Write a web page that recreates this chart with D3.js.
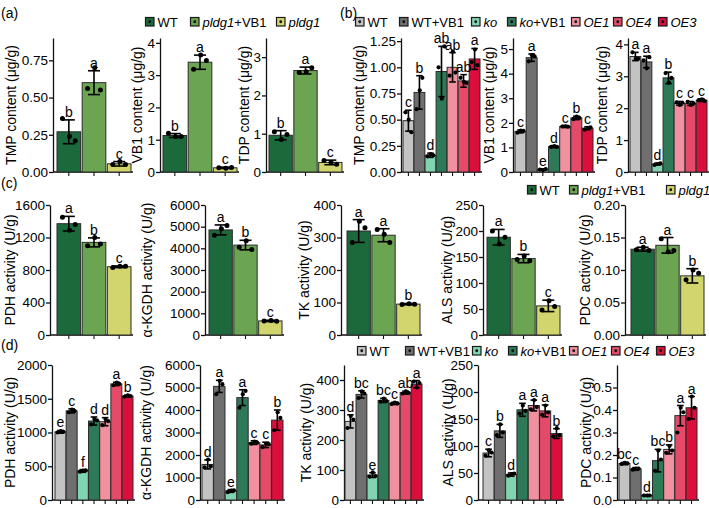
<!DOCTYPE html>
<html>
<head>
<meta charset="utf-8">
<script src="https://cdn.jsdelivr.net/npm/d3@7"></script>
<style>
  body { margin: 0; background: #fff; }
  svg { font-family: "Liberation Sans", Arial, sans-serif; }
</style>
</head>
<body>
<svg id="fig" width="709" height="508"></svg>
<script>
// groups and colours
const groupsA = ['WT', 'pldg1+VB1', 'pldg1'];
const groupsB = ['WT', 'WT+VB1', 'ko', 'ko+VB1', 'OE1', 'OE4', 'OE3'];
const colorsA = ['#1c6a3b', '#6ca552', '#d2d56e'];
const colorsB = ['#c3c3c3', '#6f6f6f', '#80d5b0', '#2e7a58', '#f1909e', '#e54b69', '#dc0e3c'];

// (a) pldg1 contents
const aTmpMean = [0.27, 0.60, 0.055];
const aTmpSd = [0.08, 0.08, 0.015];
const aTmpPts = [[0.36, 0.24, 0.21], [0.56, 0.70, 0.55], [0.05, 0.07, 0.05]];
const aTmpSig = ['b', 'a', 'c'];
const aTmpTicks = [0, 0.25, 0.5, 0.75];

const aVb1Mean = [1.13, 3.40, 0.13];
const aVb1Sd = [0.06, 0.22, 0.02];
const aVb1Pts = [[1.20, 1.10, 1.10], [3.18, 3.62, 3.45], [0.13, 0.12, 0.14]];
const aVb1Sig = ['b', 'a', 'c'];
const aVb1Ticks = [0, 1, 2, 3, 4];

const aTdpMean = [0.96, 2.65, 0.25];
const aTdpSd = [0.12, 0.09, 0.06];
const aTdpPts = [[1.05, 0.85, 0.98], [2.60, 2.62, 2.72], [0.30, 0.25, 0.20]];
const aTdpSig = ['b', 'a', 'c'];
const aTdpTicks = [0, 1, 2, 3];

// (b) ko / OE contents
const bTmpMean = [0.49, 0.76, 0.16, 0.96, 1.00, 0.87, 1.08];
const bTmpSd = [0.10, 0.16, 0.02, 0.24, 0.14, 0.06, 0.10];
const bTmpPts = [[0.57, 0.50, 0.38], [0.60, 0.78, 0.90], [0.15, 0.17, 0.16], [1.00, 0.70, 1.20], [0.92, 1.15, 0.95], [0.90, 0.86, 0.85], [1.05, 1.17, 1.02]];
const bTmpSig = ['c', 'b', 'd', 'ab', 'ab', 'ab', 'a'];
const bTmpTicks = [0, 0.25, 0.5, 0.75, 1, 1.25];

const bVb1Mean = [1.65, 4.65, 0.10, 1.03, 1.85, 2.20, 1.78];
const bVb1Sd = [0.06, 0.15, 0.03, 0.04, 0.04, 0.07, 0.06];
const bVb1Pts = [[1.60, 1.68, 1.67], [4.50, 4.75, 4.70], [0.10, 0.08, 0.12], [1.02, 1.05, 1.02], [1.85, 1.86, 1.84], [2.15, 2.25, 2.20], [1.72, 1.80, 1.82]];
const bVb1Sig = ['c', 'a', 'e', 'd', 'c', 'b', 'c'];
const bVb1Ticks = [0, 1, 2, 3, 4, 5];

const bTdpMean = [3.62, 3.45, 0.25, 2.95, 2.15, 2.15, 2.25];
const bTdpSd = [0.13, 0.18, 0.03, 0.18, 0.06, 0.06, 0.04];
const bTdpPts = [[3.75, 3.55, 3.55], [3.50, 3.25, 3.60], [0.22, 0.25, 0.27], [3.10, 2.80, 2.95], [2.18, 2.10, 2.17], [2.20, 2.10, 2.15], [2.25, 2.28, 2.22]];
const bTdpSig = ['a', 'a', 'd', 'b', 'c', 'c', 'c'];
const bTdpTicks = [0, 1, 2, 3, 4];

// (c) pldg1 enzyme activities
const cPdhMean = [1370, 1140, 840];
const cPdhSd = [90, 55, 10];
const cPdhPts = [[1450, 1290, 1360], [1100, 1200, 1120], [830, 845, 845]];
const cPdhSig = ['a', 'b', 'c'];
const cPdhTicks = [0, 400, 800, 1200, 1600];

const cKgdhMean = [4850, 4150, 650];
const cKgdhSd = [230, 220, 30];
const cKgdhPts = [[4600, 4900, 5050], [4050, 4350, 3950], [650, 670, 630]];
const cKgdhSig = ['a', 'b', 'c'];
const cKgdhTicks = [0, 1000, 2000, 3000, 4000, 5000, 6000];

const cTkMean = [320, 307, 95];
const cTkSd = [35, 20, 2];
const cTkPts = [[285, 350, 330], [325, 310, 285], [94, 96, 95]];
const cTkSig = ['a', 'a', 'b'];
const cTkTicks = [0, 100, 200, 300, 400];

const cAlsMean = [188, 147, 56];
const cAlsSd = [15, 8, 11];
const cAlsPts = [[200, 175, 188], [145, 152, 143], [48, 66, 55]];
const cAlsSig = ['a', 'b', 'c'];
const cAlsTicks = [0, 50, 100, 150, 200, 250];

const cPdcMean = [0.132, 0.138, 0.091];
const cPdcSd = [0.003, 0.012, 0.011];
const cPdcPts = [[0.131, 0.135, 0.130], [0.148, 0.128, 0.130], [0.085, 0.100, 0.095]];
const cPdcSig = ['a', 'a', 'b'];
const cPdcTicks = [0, 0.05, 0.1, 0.15, 0.2];

// (d) ko / OE enzyme activities
const dPdhMean = [1010, 1320, 430, 1170, 1160, 1720, 1540];
const dPdhSd = [20, 30, 20, 60, 60, 25, 15];
const dPdhPts = [[1000, 1020, 1010], [1300, 1340, 1320], [420, 435, 440], [1120, 1200, 1180], [1110, 1200, 1170], [1700, 1740, 1720], [1530, 1550, 1540]];
const dPdhSig = ['e', 'c', 'f', 'd', 'd', 'a', 'b'];
const dPdhTicks = [0, 500, 1000, 1500, 2000];

const dKgdhMean = [1580, 5050, 400, 4550, 2550, 2450, 3550];
const dKgdhSd = [200, 270, 60, 350, 80, 120, 450];
const dKgdhPts = [[1450, 1800, 1500], [4700, 5300, 5150], [350, 420, 430], [4100, 4700, 4850], [2500, 2600, 2550], [2350, 2500, 2480], [3100, 3900, 3650]];
const dKgdhSig = ['d', 'a', 'e', 'a', 'c', 'c', 'b'];
const dKgdhTicks = [0, 1000, 2000, 3000, 4000, 5000, 6000];

const dTkMean = [262, 352, 83, 332, 322, 358, 386];
const dTkSd = [22, 12, 8, 7, 4, 5, 12];
const dTkPts = [[240, 280, 268], [340, 362, 355], [78, 92, 80], [328, 338, 330], [320, 325, 322], [355, 362, 357], [395, 375, 390]];
const dTkSig = ['d', 'bc', 'e', 'bc', 'c', 'ab', 'a'];
const dTkTicks = [0, 100, 200, 300, 400];

const dAlsMean = [87, 128, 47, 167, 175, 165, 123];
const dAlsSd = [7, 12, 3, 12, 10, 11, 9];
const dAlsPts = [[82, 92, 88], [120, 140, 125], [45, 48, 49], [160, 175, 165], [168, 185, 172], [158, 175, 162], [118, 133, 120]];
const dAlsSig = ['c', 'b', 'd', 'a', 'a', 'a', 'b'];
const dAlsTicks = [0, 50, 100, 150, 200, 250];

const dPdcMean = [0.162, 0.138, 0.02, 0.175, 0.225, 0.375, 0.41];
const dPdcSd = [0.005, 0.006, 0.004, 0.05, 0.02, 0.045, 0.05];
const dPdcPts = [[0.160, 0.165, 0.163], [0.135, 0.140, 0.140], [0.020, 0.020, 0.020], [0.130, 0.220, 0.180], [0.210, 0.240, 0.220], [0.300, 0.410, 0.390], [0.360, 0.460, 0.410]];
const dPdcSig = ['bc', 'c', 'd', 'bc', 'b', 'a', 'a'];
const dPdcTicks = [0, 0.1, 0.2, 0.3, 0.4, 0.5];

const rowAB = [172, 38];
const rowC = [335, 205];
const rowD = [500, 365];

const panels = [
  {title: 'TMP content (μg/g)', mean: aTmpMean, sd: aTmpSd, pts: aTmpPts, sig: aTmpSig, ticks: aTmpTicks, fmt: '.2f', top: 0.9, ax: 53, bars: [57, 131], yr: rowAB, tx: 11, colors: colorsA},
  {title: 'VB1 content (μg/g)', mean: aVb1Mean, sd: aVb1Sd, pts: aVb1Pts, sig: aVb1Sig, ticks: aVb1Ticks, fmt: 'd', top: 4.15, ax: 160, bars: [163, 237], yr: rowAB, tx: 137, colors: colorsA},
  {title: 'TDP content (μg/g)', mean: aTdpMean, sd: aTdpSd, pts: aTdpPts, sig: aTdpSig, ticks: aTdpTicks, fmt: 'd', top: 3.5, ax: 266, bars: [269, 342], yr: rowAB, tx: 244, colors: colorsA},
  {title: 'TMP content (μg/g)', mean: bTmpMean, sd: bTmpSd, pts: bTmpPts, sig: bTmpSig, ticks: bTmpTicks, fmt: '.2f', top: 1.28, ax: 401, bars: [403, 480], yr: rowAB, tx: 359, colors: colorsB},
  {title: 'VB1 content (μg/g)', mean: bVb1Mean, sd: bVb1Sd, pts: bVb1Pts, sig: bVb1Sig, ticks: bVb1Ticks, fmt: 'd', top: 5.45, ax: 513, bars: [515, 593], yr: rowAB, tx: 489, colors: colorsB},
  {title: 'TDP content (μg/g)', mean: bTdpMean, sd: bTdpSd, pts: bTdpPts, sig: bTdpSig, ticks: bTdpTicks, fmt: 'd', top: 4.2, ax: 628, bars: [630, 707], yr: rowAB, tx: 602, colors: colorsB},
  {title: 'PDH activity (U/g)', mean: cPdhMean, sd: cPdhSd, pts: cPdhPts, sig: cPdhSig, ticks: cPdhTicks, fmt: 'd', top: 1600, ax: 50, bars: [57, 131], yr: rowC, tx: 10, colors: colorsA},
  {title: 'α-KGDH activity (U/g)', mean: cKgdhMean, sd: cKgdhSd, pts: cKgdhPts, sig: cKgdhSig, ticks: cKgdhTicks, fmt: 'd', top: 6000, ax: 205, bars: [209, 282], yr: rowC, tx: 147, colors: colorsA},
  {title: 'TK activity (U/g)', mean: cTkMean, sd: cTkSd, pts: cTkPts, sig: cTkSig, ticks: cTkTicks, fmt: 'd', top: 400, ax: 341, bars: [347, 420], yr: rowC, tx: 304, colors: colorsA},
  {title: 'ALS activity (U/g)', mean: cAlsMean, sd: cAlsSd, pts: cAlsPts, sig: cAlsSig, ticks: cAlsTicks, fmt: 'd', top: 250, ax: 483, bars: [487, 560], yr: rowC, tx: 447, colors: colorsA},
  {title: 'PDC activity (U/g)', mean: cPdcMean, sd: cPdcSd, pts: cPdcPts, sig: cPdcSig, ticks: cPdcTicks, fmt: '.2f', top: 0.2, ax: 625, bars: [631, 704], yr: rowC, tx: 585, colors: colorsA},
  {title: 'PDH activity (U/g)', mean: dPdhMean, sd: dPdhSd, pts: dPdhPts, sig: dPdhSig, ticks: dPdhTicks, fmt: 'd', top: 2000, ax: 52, bars: [55, 133], yr: rowD, tx: 10, colors: colorsB},
  {title: 'α-KGDH activity (U/g)', mean: dKgdhMean, sd: dKgdhSd, pts: dKgdhPts, sig: dKgdhSig, ticks: dKgdhTicks, fmt: 'd', top: 6000, ax: 200, bars: [202, 283], yr: rowD, tx: 146, colors: colorsB},
  {title: 'TK activity (U/g)', mean: dTkMean, sd: dTkSd, pts: dTkPts, sig: dTkSig, ticks: dTkTicks, fmt: 'd', top: 450, ax: 344, bars: [345, 422], yr: rowD, tx: 306, colors: colorsB},
  {title: 'ALS activity (U/g)', mean: dAlsMean, sd: dAlsSd, pts: dAlsPts, sig: dAlsSig, ticks: dAlsTicks, fmt: 'd', top: 250, ax: 478, bars: [483, 562], yr: rowD, tx: 448, colors: colorsB},
  {title: 'PDC activity (U/g)', mean: dPdcMean, sd: dPdcSd, pts: dPdcPts, sig: dPdcSig, ticks: dPdcTicks, fmt: '.1f', top: 0.6, ax: 617, bars: [619, 697], yr: rowD, tx: 586, colors: colorsB}
];

const svg = d3.select('#fig');
const jitter = [-0.27, 0.03, 0.27];

function drawPanel (p) {
    let n = p.mean.length;
    let g = svg.append('g');
    let x = d3.scaleBand().domain(d3.range(n)).range(p.bars).paddingInner(n > 3 ? 0.02 : 0.06);
    let y = d3.scaleLinear().domain([0, p.top]).range(p.yr);
    let bw = x.bandwidth();
    let cap = Math.min(12, bw * 0.6);

    let yAxis = g.append('g')
        .attr('transform', `translate(${p.ax},0)`)
        .call(d3.axisLeft(y).tickValues(p.ticks).tickFormat(d3.format(p.fmt)).tickSize(4).tickSizeOuter(0).tickPadding(1));
    yAxis.attr('font-size', 13.5).attr('font-family', null);
    yAxis.selectAll('line, path').attr('stroke', '#111').attr('stroke-width', 1.3);

    // x baseline with ticks under each bar
    g.append('line')
        .attr('x1', p.ax).attr('x2', p.bars[1] + 2)
        .attr('y1', y(0)).attr('y2', y(0))
        .attr('stroke', '#111').attr('stroke-width', 1.3);
    g.selectAll('.xtick')
        .data(d3.range(n))
        .enter().append('line')
            .attr('x1', i => x(i) + bw / 2).attr('x2', i => x(i) + bw / 2)
            .attr('y1', y(0)).attr('y2', y(0) + 4)
            .attr('stroke', '#111').attr('stroke-width', 1.1);

    g.append('text')
        .attr('transform', `translate(${p.tx},${(p.yr[0] + p.yr[1]) / 2}) rotate(-90)`)
        .attr('text-anchor', 'middle')
        .attr('dy', '0.35em')
        .attr('font-size', 14)
        .text(p.title);

    g.selectAll('.bar')
        .data(p.mean)
        .enter().append('rect')
            .attr('x', (d, i) => x(i))
            .attr('y', d => y(d))
            .attr('width', bw)
            .attr('height', d => y(0) - y(d))
            .style('fill', (d, i) => p.colors[i])
            .attr('stroke', '#2b2b2b')
            .attr('stroke-width', 1);

    let err = g.selectAll('.err')
        .data(p.mean)
        .enter().append('g')
            .attr('stroke', '#000')
            .attr('stroke-width', 1.6);
    err.append('line')
        .attr('x1', (d, i) => x(i) + bw / 2).attr('x2', (d, i) => x(i) + bw / 2)
        .attr('y1', (d, i) => y(d - p.sd[i])).attr('y2', (d, i) => y(d + p.sd[i]));
    err.append('line')
        .attr('x1', (d, i) => x(i) + bw / 2 - cap / 2).attr('x2', (d, i) => x(i) + bw / 2 + cap / 2)
        .attr('y1', (d, i) => y(d + p.sd[i])).attr('y2', (d, i) => y(d + p.sd[i]));
    err.append('line')
        .attr('x1', (d, i) => x(i) + bw / 2 - cap / 2).attr('x2', (d, i) => x(i) + bw / 2 + cap / 2)
        .attr('y1', (d, i) => y(d - p.sd[i])).attr('y2', (d, i) => y(d - p.sd[i]));

    let dots = [];
    p.pts.forEach((vals, i) => vals.forEach((v, k) => dots.push({i: i, k: k, v: v})));
    g.selectAll('.dot')
        .data(dots)
        .enter().append('circle')
            .attr('cx', d => x(d.i) + bw / 2 + jitter[d.k] * bw)
            .attr('cy', d => y(d.v))
            .attr('r', n > 3 ? 2.1 : 2.5)
            .style('fill', '#000');

    g.selectAll('.sig')
        .data(p.sig)
        .enter().append('text')
            .attr('x', (d, i) => x(i) + bw / 2)
            .attr('y', (d, i) => y(p.mean[i] + p.sd[i]) - 3)
            .attr('text-anchor', 'middle')
            .attr('font-size', 14)
            .text(d => d);
}

panels.forEach(drawPanel);

// legends
function legendLabel (text, name) {
    let m = name.match(/^(pldg1|ko|OE\d)(.*)$/);
    if (m) {
        text.append('tspan').attr('font-style', 'italic').text(m[1]);
        if (m[2]) text.append('tspan').text(m[2]);
    } else {
        text.text(name);
    }
}

function drawLegend (names, colors, xs, cy) {
    let g = svg.append('g');
    names.forEach((name, i) => {
        g.append('rect')
            .attr('x', xs[i] + 0.5).attr('y', cy - 4.5)
            .attr('width', 8.5).attr('height', 8.5)
            .style('fill', colors[i])
            .attr('stroke', '#1a1a1a').attr('stroke-width', 1.2);
        g.append('circle')
            .attr('cx', xs[i] + 4.75).attr('cy', cy - 0.25)
            .attr('r', 1.4).style('fill', '#111');
        let t = g.append('text')
            .attr('x', xs[i] + 12.5).attr('y', cy + 4.5)
            .attr('font-size', 13);
        legendLabel(t, name);
    });
}

drawLegend(groupsA, colorsA, [145, 190, 276], 22);
drawLegend(groupsB, colorsB, [355, 399, 471, 507, 571, 613, 658], 22);
drawLegend(groupsA, colorsA, [527, 569, 666], 190);
drawLegend(groupsB, colorsB, [357, 405, 472, 508, 569, 611, 656], 351);

// panel letters
const panelTags = [['(a)', 1, 18], ['(b)', 340, 18], ['(c)', 1, 188], ['(d)', 1, 350]];
svg.selectAll('.tag')
    .data(panelTags)
    .enter().append('text')
        .attr('x', d => d[1]).attr('y', d => d[2])
        .attr('font-size', 14)
        .text(d => d[0]);
</script>
</body>
</html>
